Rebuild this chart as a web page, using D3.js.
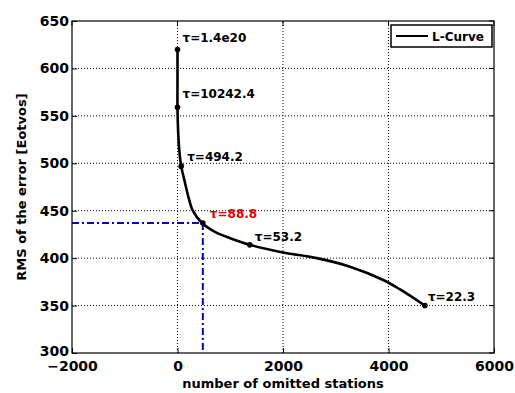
<!DOCTYPE html>
<html>
<head>
<meta charset="utf-8">
<script src="https://cdn.jsdelivr.net/npm/d3@7"></script>
<style>
  body { margin: 0; background: #fff; }
  text { font-family: "DejaVu Sans", sans-serif; font-weight: bold; }
</style>
</head>
<body>
<div id="chart"></div>
<script>
// L-curve: number of omitted stations vs RMS error
var curveX = [0, 0, 0, 15, 40, 70, 140, 200, 290, 465, 700, 1000, 1370, 2000, 2640, 3270, 3900, 4220, 4690];
var curveY = [620, 590, 559, 530, 510, 497, 480, 466, 450, 437, 428, 421, 414, 406, 400, 391, 377, 367, 350];

var labelX = [0, 0, 70, 480, 1370, 4690];
var labelY = [620, 559, 497, 437, 414, 350];
var labelText = ["\u03c4=1.4e20", "\u03c4=10242.4", "\u03c4=494.2", "\u03c4=88.8", "\u03c4=53.2", "\u03c4=22.3"];
var labelColor = ["#000", "#000", "#000", "#e00000", "#000", "#000"];

var optimumX = 480;
var optimumY = 437;

var xTicks = [-2000, 0, 2000, 4000, 6000];
var yTicks = [300, 350, 400, 450, 500, 550, 600, 650];

var width = 515, height = 393;
var margin = { left: 72, right: 21, top: 21, bottom: 40 };

var svg = d3.select('#chart').append('svg')
    .attr('width', width)
    .attr('height', height);

svg.append('rect').attr('width', width).attr('height', height).attr('fill', '#fff');

var x = d3.scaleLinear().domain([-2000, 6000]).range([margin.left, width - margin.right]);
var y = d3.scaleLinear().domain([300, 650]).range([height - margin.bottom, margin.top]);

// grid
var grid = svg.append('g').attr('stroke', '#000').attr('stroke-width', 1).attr('stroke-dasharray', '1,2');
grid.selectAll('line.gx').data([0, 2000, 4000]).enter().append('line')
    .attr('x1', function (d) { return x(d); }).attr('x2', function (d) { return x(d); })
    .attr('y1', y(300)).attr('y2', y(650));
grid.selectAll('line.gy').data([350, 400, 450, 500, 550, 600]).enter().append('line')
    .attr('y1', function (d) { return y(d); }).attr('y2', function (d) { return y(d); })
    .attr('x1', x(-2000)).attr('x2', x(6000));

// axes
var xAxis = svg.append('g').attr('transform', 'translate(0,' + y(300) + ')')
    .call(d3.axisBottom(x).tickValues(xTicks).tickFormat(d3.format('d'))
        .tickSizeInner(-5).tickSizeOuter(0).tickPadding(10));
var yAxis = svg.append('g').attr('transform', 'translate(' + x(-2000) + ',0)')
    .call(d3.axisLeft(y).tickValues(yTicks).tickFormat(d3.format('d'))
        .tickSizeInner(-5).tickSizeOuter(0).tickPadding(3));
[xAxis, yAxis].forEach(function (a) {
    a.select('.domain').remove();
    a.selectAll('text').attr('font-size', 14).attr('font-family', '"DejaVu Sans", sans-serif')
        .attr('font-weight', 'bold').attr('fill', '#000');
});
xAxis.selectAll('.tick text').attr('dy', '0.6em');
yAxis.selectAll('.tick').filter(function (d) { return d === 300; }).select('text').attr('dy', '0.15em');

// top/right ticks
svg.append('g').selectAll('line').data(xTicks).enter().append('line')
    .attr('x1', function (d) { return x(d); }).attr('x2', function (d) { return x(d); })
    .attr('y1', y(650)).attr('y2', y(650) + 5).attr('stroke', '#000');
svg.append('g').selectAll('line').data(yTicks).enter().append('line')
    .attr('x1', x(6000)).attr('x2', x(6000) - 5)
    .attr('y1', function (d) { return y(d); }).attr('y2', function (d) { return y(d); }).attr('stroke', '#000');

// frame
svg.append('rect')
    .attr('x', x(-2000)).attr('y', y(650))
    .attr('width', x(6000) - x(-2000)).attr('height', y(300) - y(650))
    .attr('fill', 'none').attr('stroke', '#000').attr('stroke-width', 1.2);

// optimum guide lines
var guide = svg.append('g').attr('stroke', '#0000cc').attr('stroke-width', 2)
    .attr('stroke-dasharray', '7,3,2,3').attr('fill', 'none');
guide.append('line').attr('x1', x(-2000)).attr('x2', x(optimumX))
    .attr('y1', y(optimumY)).attr('y2', y(optimumY));
guide.append('line').attr('x1', x(optimumX)).attr('x2', x(optimumX))
    .attr('y1', y(optimumY)).attr('y2', y(300));

// curve
svg.append('path').datum(curveX)
    .attr('d', d3.line()
        .x(function (d, i) { return x(curveX[i]); })
        .y(function (d, i) { return y(curveY[i]); })
        .curve(d3.curveCatmullRom.alpha(0.5)))
    .attr('fill', 'none').attr('stroke', '#000').attr('stroke-width', 2.6);

// markers and labels
svg.append('g').selectAll('circle').data(labelX).enter().append('circle')
    .attr('cx', function (d) { return x(d); })
    .attr('cy', function (d, i) { return y(labelY[i]); })
    .attr('r', 2.8).attr('fill', '#000');

var dx = [5, 5, 6, 7, 5, 3];
var dy = [-7, -9, -5, -5, -4, -5];
svg.append('g').selectAll('text').data(labelText).enter().append('text')
    .attr('x', function (d, i) { return x(labelX[i]) + dx[i]; })
    .attr('y', function (d, i) { return y(labelY[i]) + dy[i]; })
    .attr('font-size', 12)
    .attr('fill', function (d, i) { return labelColor[i]; })
    .text(function (d) { return d; });

// legend
var lg = svg.append('g').attr('transform', 'translate(391,25)');
lg.append('rect').attr('width', 101).attr('height', 22).attr('fill', '#fff')
    .attr('stroke', '#000').attr('stroke-width', 1.5);
lg.append('line').attr('x1', 5).attr('x2', 37).attr('y1', 11).attr('y2', 11)
    .attr('stroke', '#000').attr('stroke-width', 2);
lg.append('text').attr('x', 41).attr('y', 15.5).attr('font-size', 12).text('L-Curve');

// axis titles
svg.append('text').attr('x', x(2000)).attr('y', 388).attr('text-anchor', 'middle')
    .attr('font-size', 13).text('number of omitted stations');
svg.append('text').attr('transform', 'translate(26,' + ((y(300) + y(650)) / 2) + ') rotate(-90)')
    .attr('text-anchor', 'middle').attr('font-size', 13).text('RMS of the error [Eotvos]');
</script>
</body>
</html>
